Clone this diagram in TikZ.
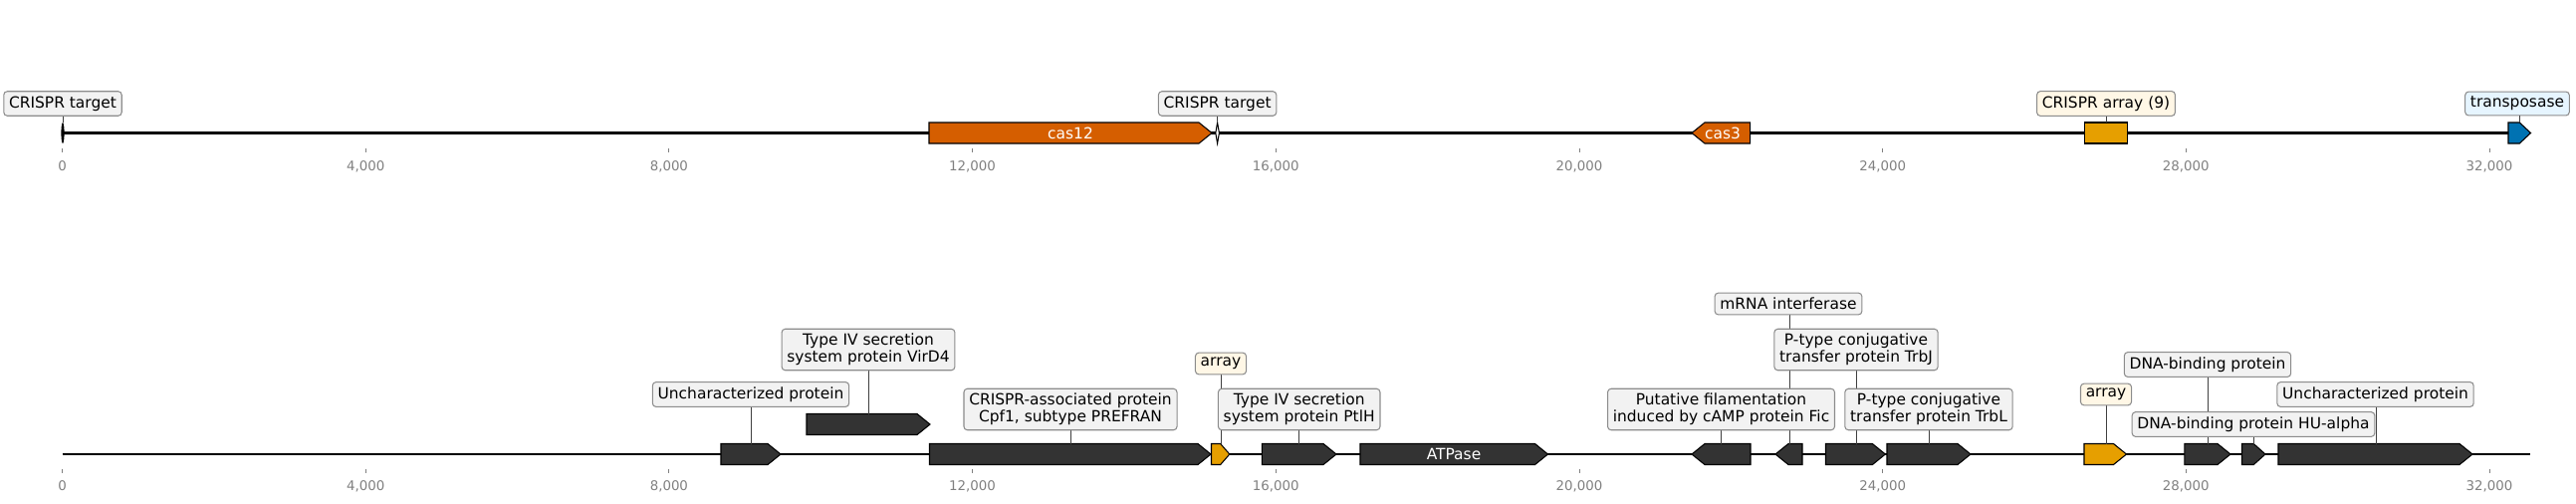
\documentclass[tikz,border=0pt]{standalone}
\usepackage{fontspec}
\setmainfont{DejaVu Sans}
\usetikzlibrary{positioning}

\definecolor{vermil}{HTML}{D55E00}
\definecolor{amber}{HTML}{E69F00}
\definecolor{tnblue}{HTML}{0072B2}
\definecolor{genegray}{HTML}{333333}
\definecolor{boxgray}{HTML}{F2F2F2}
\definecolor{boxcream}{HTML}{FFF7E6}
\definecolor{boxblue}{HTML}{E6F5FF}
\definecolor{edgegray}{HTML}{8C8C8C}
\definecolor{axisgray}{HTML}{808080}

% forward / reverse gene arrows: start, end, row, fill
\newcommand{\fwdgene}[4]{%
  \pgfmathsetmacro{\gtip}{min(13,0.5*(#2-#1))}
  \filldraw[gene, fill=#4] (#1,#3-10.5) -- ({#2-\gtip},#3-10.5) -- (#2,#3)
    -- ({#2-\gtip},#3+10.5) -- (#1,#3+10.5) -- cycle;}
\newcommand{\revgene}[4]{%
  \pgfmathsetmacro{\gtip}{min(13,0.5*(#2-#1))}
  \filldraw[gene, fill=#4] (#1,#3) -- ({#1+\gtip},#3-10.5) -- (#2,#3-10.5)
    -- (#2,#3+10.5) -- ({#1+\gtip},#3+10.5) -- cycle;}

\begin{document}
\begin{tikzpicture}[x=0.02cm, y=-0.02cm,
        gene/.style={draw=black, line width=0.6pt},
        backbone/.style={line width=1.6pt, black},
        lbl/.style={draw=edgegray, fill=boxgray, rounded corners=2pt,
        line width=0.6pt, inner xsep=3pt, inner ysep=2.8pt,
        align=center, font=\fontsize{8.8}{9.5}\selectfont},
        inlbl/.style={text=white, font=\fontsize{8.8}{9.5}\selectfont},
        link/.style={draw=black!75, line width=0.4pt},
        ticklbl/.style={text=axisgray, font=\fontsize{7.6}{9}\selectfont},
        ]

        \useasboundingbox (0,0) rectangle (2587,505);

        % axes
        \foreach \k/\t in {0/0, 1/{4,000}, 2/{8,000}, 3/{12,000}, 4/{16,000},
                5/{20,000}, 6/{24,000}, 7/{28,000}, 8/{32,000}} {
            \draw[axisgray, line width=0.5pt] (62.5+\k*304.69,149) -- ++(0,4);
            \node[ticklbl] at (62.5+\k*304.69,167) {\t};
            \draw[axisgray, line width=0.5pt] (62.5+\k*304.69,471) -- ++(0,4);
            \node[ticklbl] at (62.5+\k*304.69,488) {\t};
        }

        % top track
        \draw[backbone] (62.5,133.5) -- (2541,133.5);
        \fill[black] (63,133.5) ellipse [x radius=1.6, y radius=10.5];
        \fwdgene{933}{1217}{133.5}{vermil}
        \node[inlbl] (cas12) at (1075,133.5) {cas12};
        \filldraw[gene, fill=white] (1222.6,123) -- (1224.4,133.5) -- (1222.6,144)
            -- (1220.8,133.5) -- cycle;
        \revgene{1699}{1757.6}{133.5}{vermil}
        \node[inlbl] (cas3) at (1730,133.5) {cas3};
        \filldraw[gene, fill=amber] (2093.7,123) rectangle (2136.3,144);
        \fwdgene{2519}{2541.5}{133.5}{tnblue}

        \coordinate (tgtA) at (63,123);
        \coordinate (tgtB) at (1222.6,123);
        \coordinate (arrA) at (2115,123);
        \coordinate (tnp) at (2530,123);

        \node (ltgtA) [lbl] at (63,104) {CRISPR target};
        \node (ltgtB) [lbl] at (1222.6,104) {CRISPR target};
        \node (larrA) [lbl, fill=boxcream] at (2115,104) {CRISPR array (9)};
        \node (ltnp) [lbl, fill=boxblue] at (2528,104) {transposase};

        \draw[link] (ltgtA) -- (tgtA);
        \draw[link] (ltgtB) -- (tgtB);
        \draw[link] (larrA) -- (arrA);
        \draw[link] (ltnp.south -| tnp) -- (tnp);

        % bottom track
        \draw[backbone] (62.5,456) -- (2541,456);
        \fwdgene{724}{784}{456}{genegray}
        \fwdgene{810}{934}{426}{genegray}
        \fwdgene{933.5}{1216}{456}{genegray}
        \fwdgene{1216.5}{1234.8}{456}{amber}
        \fwdgene{1267.4}{1342}{456}{genegray}
        \fwdgene{1366}{1554.5}{456}{genegray}
        \node[inlbl] (atp) at (1460,456) {ATPase};
        \revgene{1699}{1758}{456}{genegray}
        \revgene{1783}{1810}{456}{genegray}
        \fwdgene{1833.5}{1893.4}{456}{genegray}
        \fwdgene{1895}{1979}{456}{genegray}
        \fwdgene{2093}{2135.5}{456}{amber}
        \fwdgene{2193.8}{2240}{456}{genegray}
        \fwdgene{2251.5}{2275}{456}{genegray}
        \fwdgene{2288}{2483}{456}{genegray}

        \coordinate (unkA) at (754,445.5);
        \coordinate (vird) at (872,415.5);
        \coordinate (cpf) at (1075,445.5);
        \coordinate (arrB) at (1226,445.5);
        \coordinate (ptl) at (1304.7,445.5);
        \coordinate (fic) at (1728.5,445.5);
        \coordinate (mrna) at (1797,445.5);
        \coordinate (trbj) at (1864,445.5);
        \coordinate (trbl) at (1937.5,445.5);
        \coordinate (arrC) at (2115,445.5);
        \coordinate (dnab) at (2217,445.5);
        \coordinate (hua) at (2263.5,445.5);
        \coordinate (unkB) at (2386,445.5);

        \draw[link] (unkA) -- ++(0,-50);
        \draw[link] (vird) -- ++(0,-55);
        \draw[link] (cpf) -- ++(0,-25);
        \draw[link] (arrB) -- ++(0,-70);
        \draw[link] (ptl) -- ++(0,-25);
        \draw[link] (fic) -- ++(0,-25);
        \draw[link] (mrna) -- ++(0,-130);
        \draw[link] (trbj) -- ++(0,-85);
        \draw[link] (trbl) -- ++(0,-25);
        \draw[link] (arrC) -- ++(0,-50);
        \draw[link] (dnab) -- ++(0,-70);
        \draw[link] (hua) -- ++(0,-15);
        \draw[link] (unkB) -- ++(0,-50);

        \node (lunkA) [lbl] at (754,396) {Uncharacterized protein};
        \node (lvird) [lbl] at (872,351) {Type IV secretion\\system protein VirD4};
        \node (lcpf) [lbl] at (1075,411) {CRISPR-associated protein\\Cpf1, subtype PREFRAN};
        \node (larrB) [lbl, fill=boxcream] at (1226,365) {array};
        \node (lptl) [lbl] at (1304.7,411) {Type IV secretion\\system protein PtlH};
        \node (lfic) [lbl] at (1728.5,411) {Putative filamentation\\induced by cAMP protein Fic};
        \node (lmrna) [lbl] at (1796,305) {mRNA interferase};
        \node (ltrbj) [lbl] at (1864,351) {P-type conjugative\\transfer protein TrbJ};
        \node (ltrbl) [lbl] at (1937,411) {P-type conjugative\\transfer protein TrbL};
        \node (larrC) [lbl, fill=boxcream] at (2115,396) {array};
        \node (ldnab) [lbl] at (2217,366) {DNA-binding protein};
        \node (lhua) [lbl] at (2263,426) {DNA-binding protein HU-alpha};
        \node (lunkB) [lbl] at (2385.5,396) {Uncharacterized protein};
    \end{tikzpicture}
\end{document}
